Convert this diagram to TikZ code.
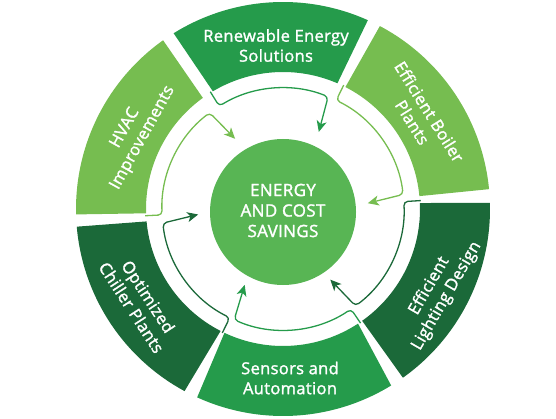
\documentclass[tikz,border=0pt]{standalone}
\usepackage{fontspec}
\setmainfont{Open Sans}[FakeBold=1.6,LetterSpace=2]
\usetikzlibrary{arrows.meta}
\definecolor{cmid}{RGB}{37,155,75}
\definecolor{clight}{RGB}{118,189,80}
\definecolor{cdark}{RGB}{27,105,57}
\definecolor{ccenter}{RGB}{88,181,84}
\newcommand\ringseg[5]{%
 \fill[#1] ([shift={(C)}]#2:207pt) arc[start angle=#2,end angle=#3,radius=207pt]
   -- ([shift={(C)}]#5:137pt) arc[start angle=#5,end angle=#4,radius=137pt] -- cycle;}
\newcommand\ringconn[3]{%
 \draw[conn,#1] ([shift={(C)}]{#3+1}:138pt) -- ([shift={(C)}]{#3+1}:121pt)
   arc[start angle={#3+1},end angle={#2+1.5},radius=121pt]
   -- ([shift={(C)}]{#2-1.5}:85pt);}
\begin{document}
\begin{tikzpicture}[x=1pt,y=1pt,
  segtext/.style={text=white, font=\fontsize{16.5}{20}\selectfont, align=center, inner sep=0pt},
  conn/.style={line width=1.3pt, rounded corners=4pt, -{Stealth[length=11pt,width=10pt,inset=3pt]}}]
\useasboundingbox (0,0) rectangle (556,418);
\coordinate (C) at (283,209);
% ring segments
\ringseg{cmid}{65.8}{121.9}{66.6}{120.8}
\ringseg{clight}{125.4}{181.5}{125.8}{181.8}
\ringseg{cdark}{184.9}{241.6}{185.2}{242.9}
\ringseg{cmid}{245.5}{301.5}{244.7}{303.2}
\ringseg{cdark}{305.4}{361.7}{305.3}{362.5}
\ringseg{clight}{5.5}{62.1}{5.4}{62.9}
% connectors
\ringconn{cmid}{66.6}{120.8}
\ringconn{clight}{125.8}{181.8}
\ringconn{cdark}{185.2}{242.9}
\ringconn{cmid}{244.7}{303.2}
\ringconn{cdark}{305.3}{362.5}
\ringconn{clight}{5.4}{62.9}
% centre
\node[circle, fill=ccenter, minimum size=146pt, inner sep=0pt] (centre) at (283,206) {};
\node[text=white, align=center, inner sep=0pt,
      font=\fontsize{17}{20.5}\selectfont] (centretext) at (283,207.5) {ENERGY\\AND COST\\SAVINGS};
% labels
\node[segtext] (renew) at (276,372.5) {Renewable Energy\\Solutions};
\node[segtext, rotate=61] (hvac) at (134,285) {HVAC\\Improvements};
\node[segtext, rotate=-58] (boiler) at (421,301) {Efficient Boiler\\Plants};
\node[segtext, rotate=-57] (chiller) at (140,116) {Optimized\\Chiller Plants};
\node[segtext] (sensors) at (290,40) {Sensors and\\Automation};
\node[segtext, rotate=60] (lighting) at (438,127) {Efficient\\Lighting Design};
\end{tikzpicture}
\end{document}
